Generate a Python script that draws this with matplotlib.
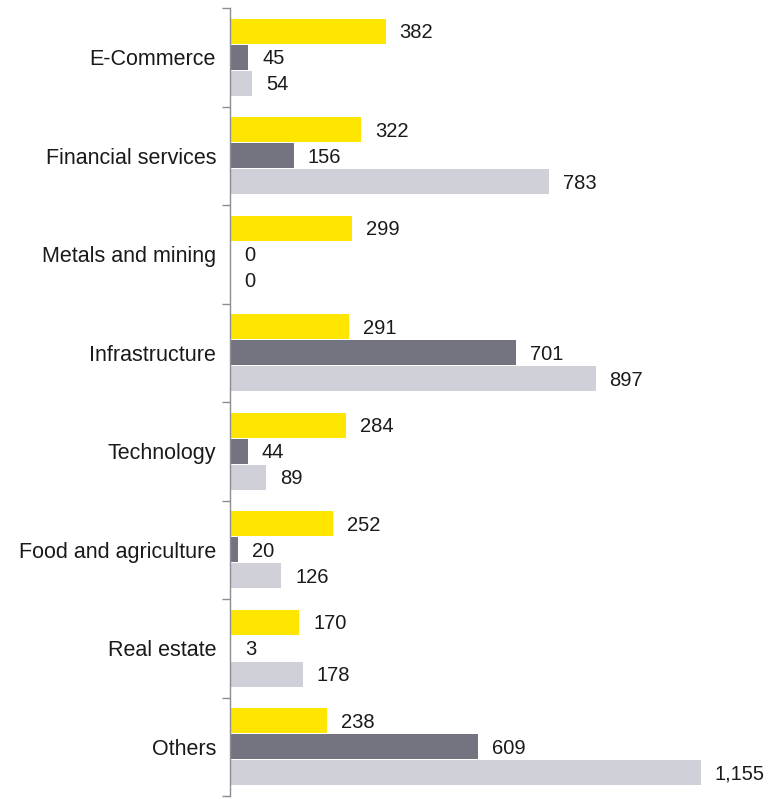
import numpy as np
import matplotlib
matplotlib.use("Agg")
import matplotlib.pyplot as plt

# --- data ---
categories = ["E-Commerce", "Financial services", "Metals and mining", "Infrastructure",
              "Technology", "Food and agriculture", "Real estate", "Others"]
series_a = [382, 322, 299, 291, 284, 252, 170, 238]   # yellow
series_b = [45, 156, 0, 701, 44, 20, 3, 609]          # dark grey
series_c = [54, 783, 0, 897, 89, 126, 178, 1155]      # light grey

colors = ["#FFE600", "#747480", "#D0D0D8"]
axis_col = "#8c8c96"
plt.rcParams['font.family'] = ['Liberation Sans', 'DejaVu Sans']

fig = plt.figure(figsize=(7.8, 7.99), dpi=100)
ax = fig.add_axes([230 / 780, 1 - 796 / 799, 550 / 780, 788 / 799])

y = np.arange(len(categories))
h = 0.254
step = 0.264
for k, (vals, col) in enumerate(zip([series_a, series_b, series_c], colors)):
    pos = y + (k - 1) * step
    ax.barh(pos, vals, height=h, color=col, linewidth=0)
    for p, v in zip(pos, vals):
        ax.annotate(f"{v:,}", (v, p), xytext=(10, -1.2), textcoords="offset points",
                    va="center", ha="left", fontsize=14.5, color="#1a1a1a")

ax.set_xlim(0, 1349)
ax.set_ylim(len(categories) - 0.5, -0.5)

ax.set_yticks(y)
ax.set_yticklabels(categories, fontsize=15.5, color="#1a1a1a")
ax.tick_params(axis="y", which="major", length=0, pad=10)
ax.set_yticks(np.arange(len(categories) + 1) - 0.5, minor=True)
ax.tick_params(axis="y", which="minor", length=6, width=1, color=axis_col)
ax.set_xticks([])

for s in ["top", "right", "bottom"]:
    ax.spines[s].set_visible(False)
ax.spines["left"].set_color(axis_col)
ax.spines["left"].set_linewidth(1)

fig.savefig("out.png", dpi=100)
